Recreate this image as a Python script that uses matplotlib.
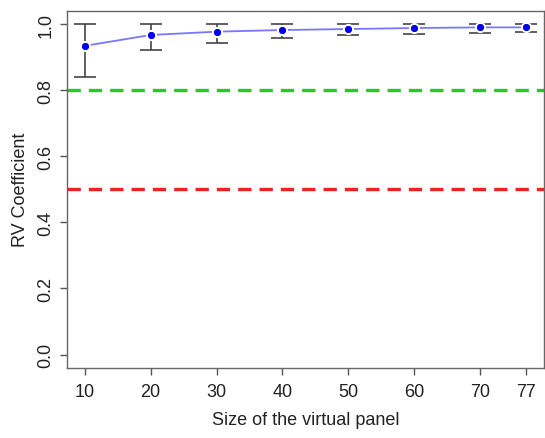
import numpy as np
import matplotlib
matplotlib.use("Agg")
import matplotlib.pyplot as plt

# --- DATA ---
panel_size = [10, 20, 30, 40, 50, 60, 70, 77]
rv_mean = [0.934, 0.967, 0.977, 0.982, 0.985, 0.988, 0.990, 0.990]
rv_low = [0.840, 0.922, 0.942, 0.957, 0.967, 0.970, 0.973, 0.976]
rv_high = [1.000, 1.000, 1.000, 0.999, 0.999, 0.999, 0.999, 0.999]
x_ticks = [10, 20, 30, 40, 50, 60, 70, 77]
y_ticks = [0.0, 0.2, 0.4, 0.6, 0.8, 1.0]
good_thr = 0.8
bad_thr = 0.5

plt.rcParams['font.family'] = ['Liberation Sans', 'DejaVu Sans']

fig = plt.figure(figsize=(5.45, 4.39), dpi=100)
ax = fig.add_axes([0.123, 0.16, 0.875, 0.813])

x = np.array(panel_size)
m = np.array(rv_mean)
yerr = [m - np.array(rv_low), np.array(rv_high) - m]

ax.axhline(good_thr, color='#22cc22', linestyle=(0, (4, 2.4)), linewidth=2.4)
ax.axhline(bad_thr, color='#ee2222', linestyle=(0, (4, 2.4)), linewidth=2.4)

ax.plot(x, m, color='#7777ff', linewidth=1.3)
ax.errorbar(x, m, yerr=yerr, fmt='none', ecolor='#444444', elinewidth=1.2,
            capsize=8, capthick=1.2)
ax.plot(x, m, 'o', color='#0000ee', markersize=6.5, markeredgecolor='white', markeredgewidth=1.5)
ax.plot(x, m, 'o', color='#0000ee', markersize=5, markeredgewidth=0)

ax.set_xlim(10 - 67 * 0.04, 77 + 67 * 0.04)
ax.set_ylim(-0.04, 1.04)
ax.set_xticks(x_ticks)
ax.set_yticks(y_ticks)
ax.set_yticklabels([f"{v:.1f}" for v in y_ticks], rotation=90, va='center')
ax.tick_params(axis='both', direction='out', length=5, width=1, color='#555555',
               labelsize=13, labelcolor='#222222')
ax.tick_params(axis='y', pad=4)
ax.tick_params(axis='x', pad=6)

for s in ax.spines.values():
    s.set_color('#666666')
    s.set_linewidth(1)

ax.set_xlabel("Size of the virtual panel", fontsize=13, color='#222222', labelpad=8)
ax.set_ylabel("RV Coefficient", fontsize=13, color='#222222', labelpad=6)

fig.savefig("out.png", dpi=100)
